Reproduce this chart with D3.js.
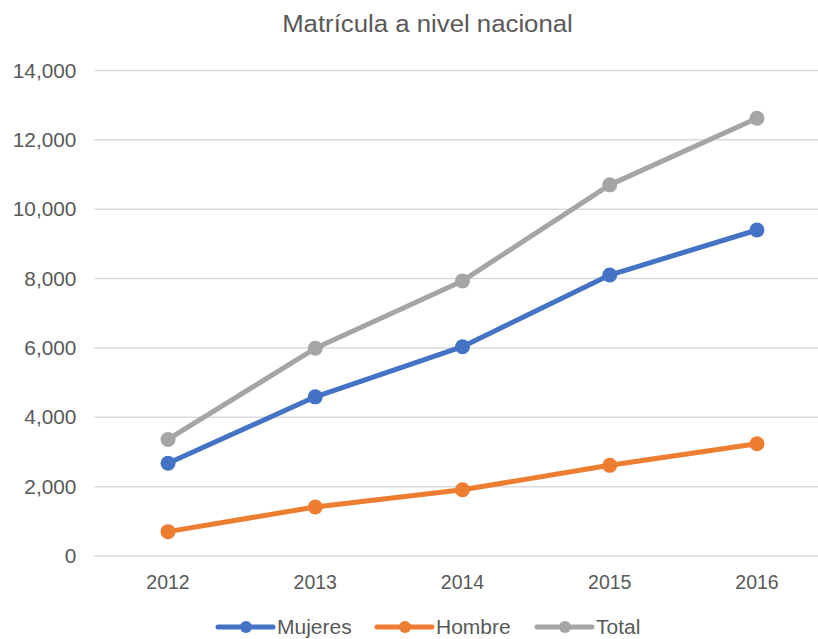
<!DOCTYPE html>
<html>
<head>
<meta charset="utf-8">
<script src="https://cdn.jsdelivr.net/npm/d3@7/dist/d3.min.js"></script>
<style>
  html, body { margin: 0; padding: 0; background: #fff; }
  svg { display: block; }
  text { font-family: "Liberation Sans", Arial, sans-serif; fill: #595959; }
</style>
</head>
<body>
<svg id="chart" width="818" height="639"></svg>
<script>
// Matrícula por año
const years = ["2012", "2013", "2014", "2015", "2016"];
const mujeres = [2659, 4575, 6021, 8088, 9386];
const hombre = [688, 1400, 1897, 2600, 3221];
const total = [3347, 5975, 7918, 10688, 12607];
const yTicks = [0, 2000, 4000, 6000, 8000, 10000, 12000, 14000];
const seriesNames = ["Mujeres", "Hombre", "Total"];
const seriesColors = ["#4472C4", "#ED7D31", "#A5A5A5"];
const titleText = "Matrícula a nivel nacional";

const series = [mujeres, hombre, total].map((vals, i) => ({
  name: seriesNames[i],
  color: seriesColors[i],
  points: years.map((y, j) => ({ year: y, value: vals[j] }))
}));

const svg = d3.select("#chart");
const plot = { left: 94.4, right: 830.6, top: 70, bottom: 555.5 };

const x = d3.scaleBand().domain(years).range([plot.left, plot.right]);
const y = d3.scaleLinear().domain([0, 14000]).range([plot.bottom, plot.top]);

// widen glyphs slightly so the lettering has the spreadsheet proportions
function stretch(sel, factor) {
  sel.each(function () {
    const w = this.getComputedTextLength();
    this.setAttribute("textLength", w * factor);
    this.setAttribute("lengthAdjust", "spacingAndGlyphs");
  });
}

// title
svg.append("text")
  .attr("x", 427.5).attr("y", 32)
  .attr("text-anchor", "middle")
  .style("font-size", "23px")
  .text(titleText)
  .call(stretch, 1.12);

// gridlines + y labels
const yAxis = d3.axisLeft(y).tickValues(yTicks).tickSize(-(plot.right - plot.left))
  .tickFormat(d3.format(","));
const gy = svg.append("g").attr("transform", `translate(${plot.left},0)`).call(yAxis);
gy.select(".domain").remove();
gy.selectAll(".tick line").attr("stroke", "#d9d9d9").attr("stroke-width", 1.5);
gy.selectAll(".tick text")
  .attr("x", -18).attr("dy", "0.36em")
  .style("font-size", "20px").style("fill", "#595959")
  .call(stretch, 1.04);

// x labels
const xAxis = d3.axisBottom(x).tickSize(0);
const gx = svg.append("g").attr("transform", `translate(0,${plot.bottom})`).call(xAxis);
gx.select(".domain").remove();
gx.selectAll(".tick text")
  .attr("y", 33).attr("dy", 0)
  .style("font-size", "19.5px").style("fill", "#595959");

// lines and markers
const line = d3.line().x(d => x(d.year) + x.bandwidth() / 2).y(d => y(d.value));
const gs = svg.append("g").selectAll("g").data(series).join("g");
gs.append("path")
  .attr("d", d => line(d.points))
  .attr("fill", "none")
  .attr("stroke", d => d.color)
  .attr("stroke-width", 5)
  .attr("stroke-linejoin", "round")
  .attr("stroke-linecap", "round");
gs.selectAll("circle").data(d => d.points.map(p => ({ ...p, color: d.color })))
  .join("circle")
  .attr("cx", d => x(d.year) + x.bandwidth() / 2)
  .attr("cy", d => y(d.value))
  .attr("r", 7.5)
  .attr("fill", d => d.color);

// legend
const legendX = [218, 377, 537];
const lg = svg.append("g").selectAll("g").data(series).join("g")
  .attr("transform", (d, i) => `translate(${legendX[i]},627)`);
lg.append("line")
  .attr("x1", 0).attr("x2", 55).attr("y1", 0).attr("y2", 0)
  .attr("stroke", d => d.color).attr("stroke-width", 5).attr("stroke-linecap", "round");
lg.append("circle").attr("cx", 28).attr("cy", 0).attr("r", 6).attr("fill", d => d.color);
lg.append("text")
  .attr("x", 59).attr("y", 7)
  .style("font-size", "20px")
  .text(d => d.name)
  .call(stretch, 1.05);
</script>
</body>
</html>
